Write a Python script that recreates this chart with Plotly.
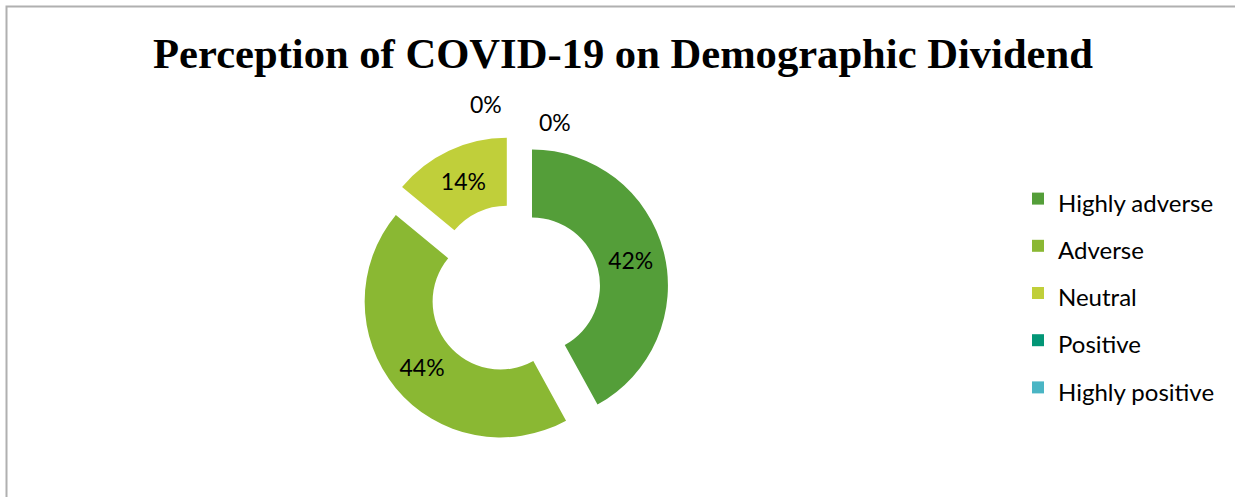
import plotly.graph_objects as go

# Survey responses: perceived impact of COVID-19 on the demographic dividend
categories = ["Highly adverse", "Adverse", "Neutral", "Positive", "Highly positive"]
shares = [42, 44, 14, 0, 0]
colors = ["#549E39", "#8AB833", "#C0CF3A", "#029676", "#4AB5C4"]

W, H = 1235, 497

# donut geometry (pixels): centre of the box that holds the exploded ring
PIE_CX, PIE_CY, PIE_BOX = 514.5, 290.0, 308.0
PULL = 0.133
R_OUT = PIE_BOX / 2 / (1 + PULL)

# legend rows are spaced by the legend font size; the visible text is set smaller
legend_labels = [f"<span style='font-size:24px'>{c}</span>" for c in categories]

# zero-share slices sit at 12 o'clock; their labels go above the ring
positions = ["inside" if v > 0 else "none" for v in shares]
zero_idx = [i for i, v in enumerate(shares) if v == 0]
zero_offsets = {zero_idx[0]: (40, R_OUT + 32), zero_idx[1]: (-29, R_OUT + 50)}

annotations = []
for i, (dx, dy) in zero_offsets.items():
    annotations.append(
        dict(
            x=(PIE_CX + dx) / W,
            y=1 - (PIE_CY - dy) / H,
            xref="paper",
            yref="paper",
            text=f"{shares[i]}%",
            showarrow=False,
            font=dict(family="Lato", size=23, color="#000000"),
            xanchor="center",
            yanchor="middle",
        )
    )

fig = go.Figure(
    go.Pie(
        labels=legend_labels,
        values=shares,
        sort=False,
        direction="clockwise",
        rotation=0,
        hole=0.5,
        pull=[PULL] * len(shares),
        marker=dict(colors=colors, line=dict(width=0)),
        textinfo="percent",
        texttemplate="%{percent:.0%}",
        textposition=positions,
        insidetextorientation="horizontal",
        textfont=dict(family="Lato", size=23, color="#000000"),
        domain=dict(
            x=[(PIE_CX - PIE_BOX / 2) / W, (PIE_CX + PIE_BOX / 2) / W],
            y=[1 - (PIE_CY + PIE_BOX / 2) / H, 1 - (PIE_CY - PIE_BOX / 2) / H],
        ),
        hoverinfo="label+percent",
    )
)

fig.update_layout(
    width=W,
    height=H,
    margin=dict(l=0, r=0, t=0, b=0),
    paper_bgcolor="white",
    plot_bgcolor="white",
    title=dict(
        text="<b>Perception of COVID-19 on Demographic Dividend</b>",
        font=dict(family="Liberation Serif", size=42.6, color="#000000"),
        x=623 / W,
        xanchor="center",
        y=1 - 53 / H,
        yanchor="middle",
    ),
    legend=dict(
        x=1018 / W,
        xanchor="left",
        y=1 - 170 / H,
        yanchor="top",
        font=dict(family="Lato", size=34, color="#000000"),
        itemwidth=30,
        bgcolor="rgba(0,0,0,0)",
    ),
    annotations=annotations,
    shapes=[
        dict(
            type="rect",
            xref="paper",
            yref="paper",
            x0=6.5 / W,
            x1=1 + 10 / W,
            y0=-10 / H,
            y1=1 - 6.5 / H,
            line=dict(color="#B0B0B0", width=2),
            fillcolor="rgba(0,0,0,0)",
        )
    ],
)

fig.write_html("out.html")
